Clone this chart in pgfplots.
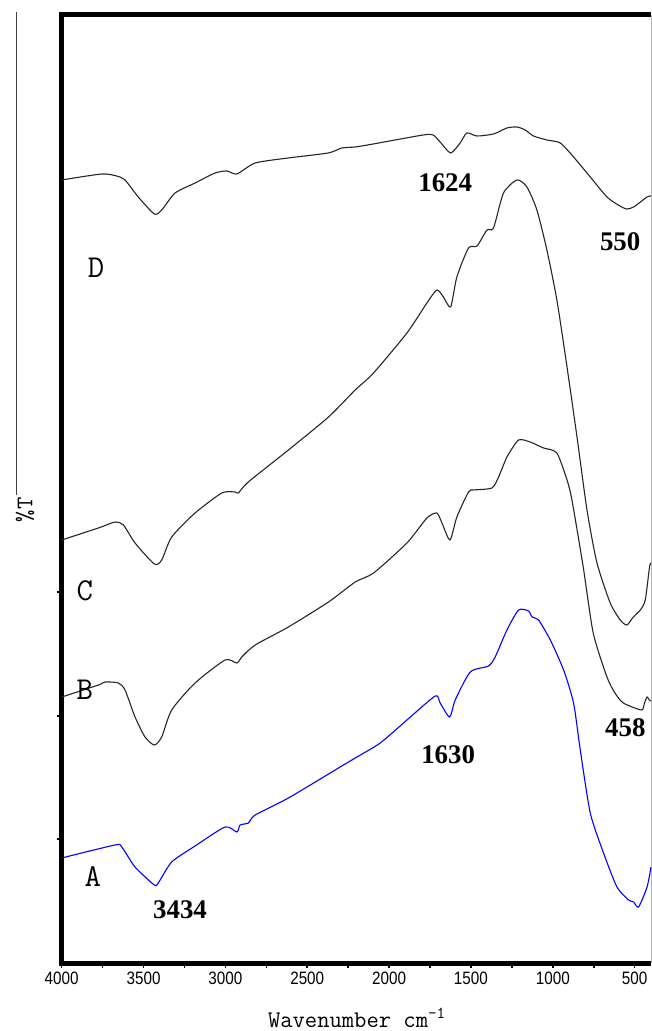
\documentclass[border=0pt]{standalone}
\usepackage{fontspec}
\setmainfont{Liberation Serif}
\newfontfamily\arialn[FakeStretch=0.85]{Liberation Sans}
\usepackage{pgfplots}
\pgfplotsset{compat=1.18}
\usepackage{pgfplotstable}

% FTIR spectra: wavenumber (cm^-1) vs. offset transmittance
\pgfplotstableread{
wn   T
4000 783
3756 789
3664 787
3613 783
3532 766
3434 749
3389 753
3307 770
3185 780
3063 790
2991 792
2930 789
2818 800
2617 805
2372 810
2289 815
2207 816
2097 819
1792 828
1731 828
1688 821
1624 810
1566 820
1525 830
1463 827
1362 829
1280 835
1219 836
1168 833
1118 827
1036 823
954  820
873  806
771  786
669  766
600  758
550  754
506  756
424  766
400  767
}\specD

\pgfplotstableread{
wn   T
4000 423
3776 435
3674 441
3623 438
3552 420
3434 399
3389 403
3328 426
3185 450
3022 470
2941 471
2921 470
2860 481
2615 513
2370 546
2207 573
2095 590
1891 630
1769 660
1708 673
1668 666
1624 656
1586 686
1515 715
1463 717
1402 733
1362 735
1301 770
1219 783
1158 776
1097 753
1036 713
975  663
913  596
852  526
791  453
730  400
649  360
588  343
547  338
508  346
465  353
435  363
409  396
400  400
}\specC

\pgfplotstableread{
wn   T
4000 266
3776 278
3735 281
3654 280
3613 273
3552 246
3491 226
3434 218
3389 226
3328 253
3185 280
3002 303
2930 300
2900 306
2818 318
2615 336
2370 361
2207 381
2095 390
1891 420
1769 445
1708 450
1677 440
1628 423
1586 446
1515 471
1484 473
1372 475
1331 486
1280 506
1209 523
1138 521
1097 518
1056 515
975  510
913  483
883  463
814  396
753  330
669  286
620  270
569  260
458  253
440  260
424  266
410  263
400  262
}\specB

\pgfplotstableread{
wn   T
4000 105
3674 118
3633 116
3552 96
3434 78
3410 80
3328 101
3185 117
3002 136
2930 131
2910 138
2860 140
2818 148
2615 165
2299 196
2207 205
2054 220
1891 243
1718 267
1688 260
1630 246
1596 263
1504 291
1393 297
1352 306
1280 333
1209 353
1148 352
1127 346
1087 343
1015 323
934  293
873  260
832  213
771  150
690  110
608  76
537  63
506  61
476  56
424  76
400  96
}\specA

\begin{document}
\begin{tikzpicture}
\useasboundingbox (-61.7bp,-68bp) rectangle (590.3bp,963bp);
\begin{axis}[
  scale only axis, width=589.3bp, height=948bp,
  xmin=400, xmax=4000, x dir=reverse,
  ymin=0, ymax=948,
  axis line style={draw=none},
  xtick={500,1000,...,4000}, minor x tick num=1,
  ytick={124,247,371}, yticklabels={},
  xtick pos=bottom, ytick pos=left, tick align=outside,
  major tick length=5bp, minor tick length=5bp,
  every tick/.style={black, line width=1.6bp},
  xticklabel style={font=\arialn\fontsize{18}{18}\selectfont},
  /pgf/number format/assume math mode=true,
  /pgf/number format/1000 sep={},
  xlabel={Wavenumber cm\textsuperscript{-1}},
  xlabel style={at={(axis description cs:0.501,-0.058)}, anchor=center,
    font=\ttfamily\fontsize{24}{24}\selectfont},
  ylabel={\%T},
  ylabel style={at={(axis description cs:-0.062,0.478)}, anchor=center,
    font=\ttfamily\fontsize{24}{24}\selectfont},
  clip=false,
]
% frame: heavy on left, top and bottom, hairline on the right
\draw[line width=5bp, line join=miter]
  (axis description cs:1,1) -- (axis description cs:0,1) --
  (axis description cs:0,0) -- (axis description cs:1,0);
\draw[gray!60, line width=0.8bp] (axis description cs:1,0) -- (axis description cs:1,1);
\draw[black!75, line width=0.6bp] (axis description cs:-0.0776,1.003) -- (axis description cs:-0.0776,0.4937);

\addplot[black!85, line width=1.1bp, smooth, tension=0.4] table {\specD};
\addplot[black!85, line width=1.1bp, smooth, tension=0.4] table {\specC};
\addplot[black!85, line width=1.1bp, smooth, tension=0.4] table {\specB};
\addplot[blue, line width=1.1bp, smooth, tension=0.4] table {\specA};

% series letters
\node[font=\ttfamily\fontsize{32}{32}\selectfont] at (axis cs:3790,695) {D};
\node[font=\ttfamily\fontsize{32}{32}\selectfont] at (axis cs:3858,372) {C};
\node[font=\ttfamily\fontsize{32}{32}\selectfont] at (axis cs:3858,273) {B};
\node[font=\ttfamily\fontsize{32}{32}\selectfont] at (axis cs:3809,86) {A};

% band assignments
\node[font=\bfseries\fontsize{27}{27}\selectfont] at (axis cs:1657,780) {1624};
\node[font=\bfseries\fontsize{27}{27}\selectfont] at (axis cs:588,721) {550};
\node[font=\bfseries\fontsize{27}{27}\selectfont] at (axis cs:557,235) {458};
\node[font=\bfseries\fontsize{27}{27}\selectfont] at (axis cs:1639,208) {1630};
\node[font=\bfseries\fontsize{27}{27}\selectfont] at (axis cs:3277,53) {3434};
\end{axis}
\end{tikzpicture}
\end{document}
